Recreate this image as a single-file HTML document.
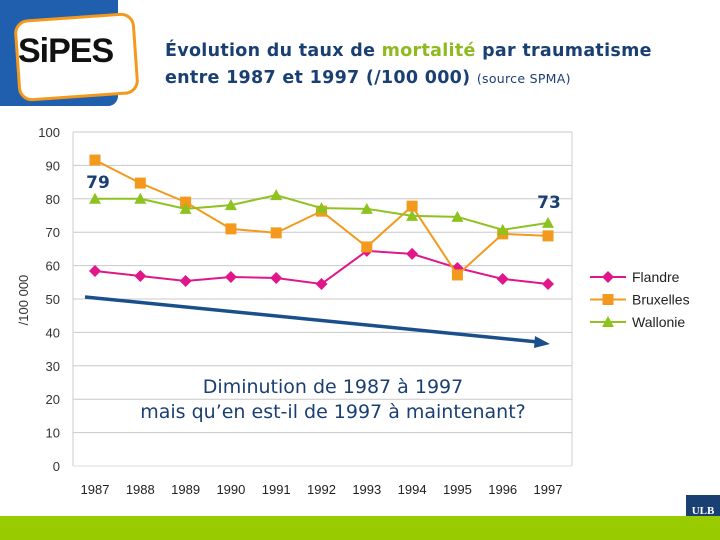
<!DOCTYPE html>
<html><head><meta charset="utf-8"><style>
body{margin:0;width:720px;height:540px;overflow:hidden;background:#fff;font-family:"Liberation Sans",sans-serif;position:relative}
.abs{position:absolute}
</style></head><body>
<div class="abs" style="left:0;top:0;width:118px;height:106px;background:#1f5fad;border-bottom-right-radius:10px"></div>
<div class="abs" style="left:16px;top:16px;width:115px;height:76px;background:#fff;border:3px solid #f39a1e;border-radius:14px;transform:rotate(-4deg)"></div>
<div class="abs" style="left:18px;top:32px;font:bold 34px 'Liberation Sans',sans-serif;color:#111;letter-spacing:-1px">SiPES</div>
<div class="abs" style="left:165px;top:38px;font:bold 17.5px 'DejaVu Sans',sans-serif;color:#1a3f73;line-height:27px;letter-spacing:0.3px">Évolution du taux de <span style="color:#8dbb1d">mortalité</span> par traumatisme<br>entre 1987 et 1997 (/100 000) <span style="font:normal 12.5px 'DejaVu Sans',sans-serif">(source SPMA)</span></div>
<svg class="abs" style="left:0;top:0" width="720" height="540">
<g id="grid"></g><g id="series"></g>
</svg>
<div class="abs" style="left:80px;top:375px;width:506px;text-align:center;font:19px 'DejaVu Sans',sans-serif;color:#1a3f73;line-height:25px">Diminution de 1987 à 1997<br>mais qu’en est-il de 1997 à maintenant?</div>
<div class="abs" style="left:686px;top:495px;width:34px;height:32px;background:#1a3f73;color:#fff;font:bold 11px 'Liberation Serif',serif;text-align:center;line-height:32px">ULB</div>
<div class="abs" style="left:0;top:516px;width:720px;height:24px;background:#99cc00"></div>
<script>
const years=["1987","1988","1989","1990","1991","1992","1993","1994","1995","1996","1997"];
const flandre=[58.4,56.9,55.4,56.6,56.3,54.5,64.4,63.5,59.3,56,54.5];
const bruxelles=[91.6,84.7,79,71,69.8,76.3,65.6,77.8,57.2,69.5,68.9];
const wallonie=[80,80,77,78.1,81.1,77.2,77,74.9,74.6,70.7,72.8];
const yTicks=[0,10,20,30,40,50,60,70,80,90,100];
const NS="http://www.w3.org/2000/svg";
const X0=73,X1=572,Y0=466,Y1=132;
const xs=i=>95+i*(548-95)/(years.length-1);
const ys=v=>Y0-(v/100)*(Y0-Y1);
function mk(t,a,p){const e=document.createElementNS(NS,t);for(const k in a)e.setAttribute(k,a[k]);(p||document.querySelector('svg')).appendChild(e);return e;}
const g=document.getElementById('grid'),s=document.getElementById('series');
yTicks.forEach(v=>{
 const l=mk('line',{x1:X0,x2:X1,y1:ys(v),y2:ys(v),stroke:v===0?'#ddd':'#c8c8c8','stroke-width':1},g);
 
 
 const t=mk('text',{x:60,y:ys(v)+5,'text-anchor':'end','font-size':13,fill:'#333','font-family':'Liberation Sans Narrow, Liberation Sans, sans-serif'},g);t.textContent=v;
 
 
});
mk('line',{x1:X0,x2:X0,y1:Y1,y2:Y0,stroke:'#ccc'},g);
mk('line',{x1:X1,x2:X1,y1:Y1,y2:Y0,stroke:'#ccc'},g);
years.forEach((y,i)=>{const t=mk('text',{x:xs(i),y:494,'text-anchor':'middle','font-size':13,fill:'#222','font-family':'Liberation Sans Narrow, Liberation Sans, sans-serif'},g);t.textContent=y;
 
 });
const yt=mk('text',{x:28,y:300,'text-anchor':'middle','font-size':13,fill:'#333',transform:'rotate(-90 28 300)'},g);yt.textContent='/100 000';


function marker(type,x,y,c,p){
 if(type==='d')return mk('polygon',{points:`${x},${y-6} ${x+6},${y} ${x},${y+6} ${x-6},${y}`,fill:c},p);
 if(type==='s')return mk('rect',{x:x-5.5,y:y-5.5,width:11,height:11,fill:c},p);
 return mk('polygon',{points:`${x},${y-6} ${x+6},${y+5} ${x-6},${y+5}`,fill:c},p);
}
[[flandre,'#e0168a','d','series-flandre'],[bruxelles,'#f39a1e','s','series-bruxelles'],[wallonie,'#8dc21f','t','series-wallonie']].forEach(([d,c,m,n])=>{
 const pl=mk('polyline',{points:d.map((v,i)=>xs(i)+','+ys(v)).join(' '),fill:'none',stroke:c,'stroke-width':2},s);
 
 
 d.forEach((v,i)=>{const e=marker(m,xs(i),ys(v),c,s);
  
  });
});
[['Flandre','#e0168a','d'],['Bruxelles','#f39a1e','s'],['Wallonie','#8dc21f','t']].forEach(([n,c,m],i)=>{
 const y=277+i*22.5;
 mk('line',{x1:590,x2:626,y1:y,y2:y,stroke:c,'stroke-width':2});
 marker(m,608,y,c);
 const t=mk('text',{x:632,y:y+5,'font-size':14,fill:'#222','font-family':'Liberation Sans Narrow, Liberation Sans, sans-serif'});t.textContent=n;
 
 
});
const a=mk('text',{x:98,y:188,'text-anchor':'middle','font-size':17,'font-weight':'bold',fill:'#1a3f73','font-family':'DejaVu Sans, sans-serif'});a.textContent='79';


const b=mk('text',{x:549,y:208,'text-anchor':'middle','font-size':17,'font-weight':'bold',fill:'#1a3f73','font-family':'DejaVu Sans, sans-serif'});b.textContent='73';


const ar=mk('line',{x1:85,y1:297,x2:538,y2:342,stroke:'#1a4f8c','stroke-width':3.5});


mk('polygon',{points:'550,344 535,336 534,348',fill:'#1a4f8c'});
</script>
</body></html>
